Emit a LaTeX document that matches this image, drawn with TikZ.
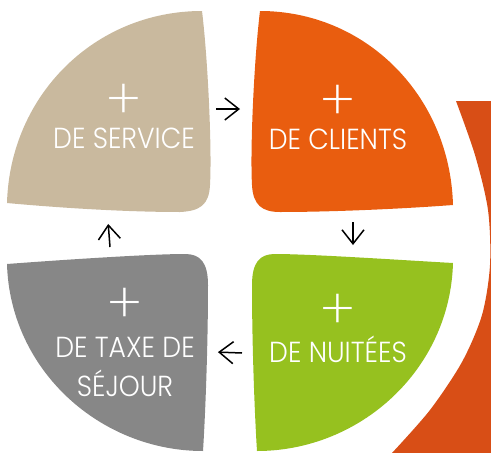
\documentclass[tikz,border=0pt]{standalone}
\usepackage{fontspec}
\newfontfamily\labelfont{Poppins Light}[FakeStretch=0.92]
\newfontfamily\plusfont{Poppins ExtraLight}
\usetikzlibrary{arrows.meta}

\definecolor{sable}{RGB}{201,185,158}
\definecolor{clientorange}{RGB}{233,93,15}
\definecolor{nuitgreen}{RGB}{150,193,31}
\definecolor{taxegrey}{RGB}{135,135,135}
\definecolor{rust}{RGB}{216,78,22}

\begin{document}
\begin{tikzpicture}[x=1pt, y=-1pt,
  lbl/.style={text=white, font=\labelfont\fontsize{29}{29}\selectfont, inner sep=0pt, anchor=base},
  plussign/.style={text=white, font=\plusfont\fontsize{56}{56}\selectfont, inner sep=0pt, text height=22pt, text depth=0pt},
  flow/.style={-{Straight Barb[length=14pt,width=22pt,sep=3pt]}, line width=1.5pt, black}]
\useasboundingbox (0,0) rectangle (491,453);

% back ring
\fill[rust] (456,101) -- (491,101) -- (491,453) -- (392,453)
  -- plot[smooth] coordinates {(392,453) (430,410) (462,362) (482,315) (490,265) (488,210) (475,155) (456,101)} -- cycle;

% four petals
\fill[sable] (7,203) .. controls (10,95) and (95,11) .. (202,11)
  .. controls (208,60) and (212,150) .. (210,185)
  .. controls (209,205) and (200,211) .. (180,212)
  .. controls (120,212) and (50,207) .. (7,203) -- cycle;
\fill[clientorange] (260,11) .. controls (365,11) and (450,95) .. (453,205)
  .. controls (400,209) and (330,212) .. (280,212)
  .. controls (262,212) and (253,205) .. (252,185)
  .. controls (250,150) and (254,60) .. (260,11) -- cycle;
\fill[taxegrey] (7,264) .. controls (60,260) and (150,254) .. (185,254)
  .. controls (200,254) and (208,262) .. (208,285)
  .. controls (208,350) and (205,420) .. (203,451)
  .. controls (100,451) and (10,370) .. (7,264) -- cycle;
\fill[nuitgreen] (453,263) .. controls (450,370) and (360,451) .. (257,451)
  .. controls (255,420) and (252,350) .. (252,285)
  .. controls (252,262) and (260,254) .. (275,254)
  .. controls (310,254) and (400,260) .. (453,263) -- cycle;

\node (svcplus)[plussign] at (124,108) {+};
\node (svc)[lbl] at (124,148) {DE SERVICE};
\node (cliplus)[plussign] at (338,109) {+};
\node (cli)[lbl] at (338,149) {DE CLIENTS};
\node (nuitplus)[plussign] at (338,318) {+};
\node (nuit)[lbl] at (338,362) {DE NUITÉES};
\node (taxeplus)[plussign] at (125,312) {+};
\node (taxe)[lbl] at (125,357) {DE TAXE DE};
\node (sejour)[lbl] at (125,396) {SÉJOUR};

\coordinate (a1) at (216,109);
\coordinate (b1) at (243,109);
\coordinate (a2) at (353,222);
\coordinate (b2) at (353,248);
\coordinate (a3) at (242,353);
\coordinate (b3) at (215,352);
\coordinate (a4) at (110,247);
\coordinate (b4) at (108,221);

\draw[flow] (a1) -- (b1);
\draw[flow] (a2) -- (b2);
\draw[flow] (a3) -- (b3);
\draw[flow] (a4) -- (b4);
\end{tikzpicture}
\end{document}
